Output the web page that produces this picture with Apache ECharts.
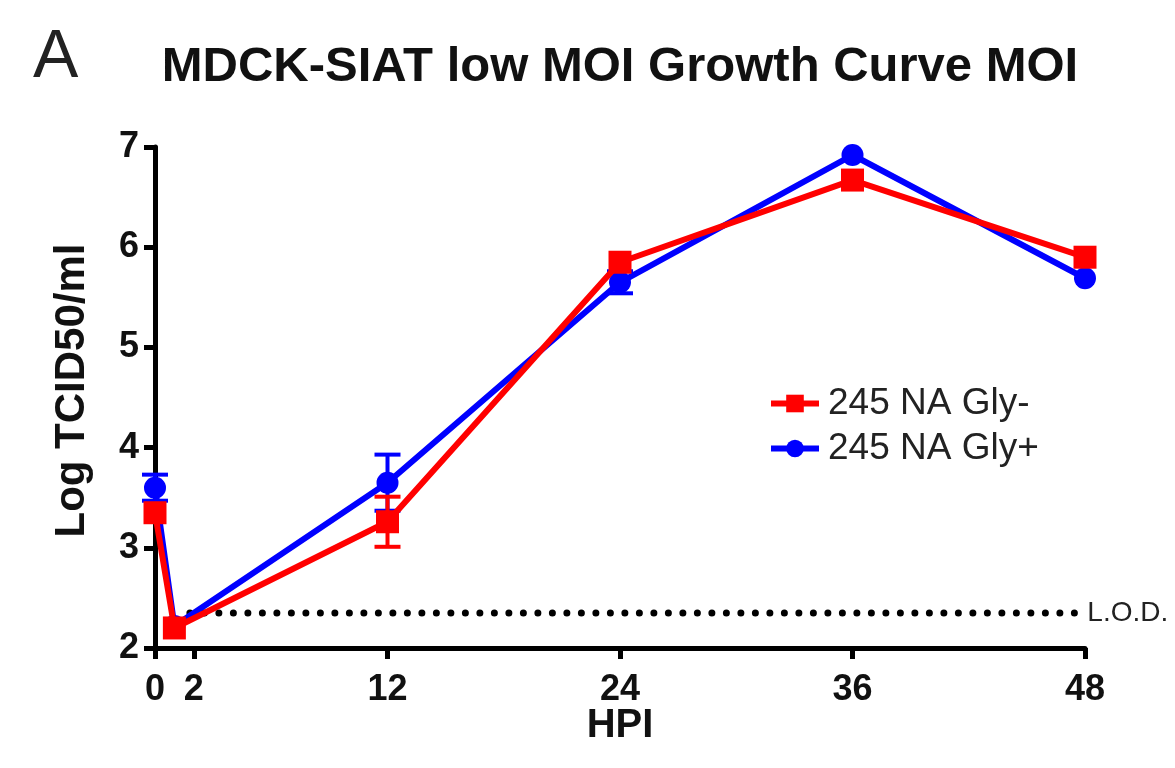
<!DOCTYPE html>
<html>
<head>
<meta charset="utf-8">
<title>MDCK-SIAT low MOI Growth Curve</title>
<script src="https://cdn.jsdelivr.net/npm/echarts@6/dist/echarts.min.js"></script>
<style>
  html, body { margin: 0; padding: 0; background: #fff; }
  #chart { width: 1175px; height: 768px; }
</style>
</head>
<body>
<div id="chart"></div>
<script>
// Hours post infection and log titres for each virus
const hpiMinus = [0, 1, 12, 24, 36, 48];
const titreMinus = [3.35, 2.2, 3.26, 5.85, 6.67, 5.9];
const errMinus = [0.05, 0.05, 0.25, 0.05, 0.06, 0.05];

const hpiPlus = [0, 1, 12, 24, 36, 48];
const titrePlus = [3.6, 2.22, 3.65, 5.65, 6.92, 5.69];
const errPlus = [0.13, 0.05, 0.28, 0.11, 0.05, 0.05];

// Limit of detection
const lodValue = 2.35;
const lodRange = [1.8, 47.5];

const xTicks = [0, 2, 12, 24, 36, 48];
const seriesNames = ['245 NA Gly-', '245 NA Gly+'];

const RED = '#ff0000';
const BLUE = '#0000ff';
const FONT = '"Liberation Sans", Arial, Helvetica, sans-serif';
const MARKER = 22;

const pairs = (xs, ys) => xs.map((x, i) => [x, ys[i]]);
const triples = (xs, ys, es) => xs.map((x, i) => [x, ys[i], es[i]]);

// SD bars; bars much shorter than the marker stay hidden behind it
function errorBars(color) {
  return function (params, api) {
    const x = api.value(0), y = api.value(1), e = api.value(2);
    const top = api.coord([x, y + e]);
    const bot = api.coord([x, y - e]);
    if ((bot[1] - top[1]) / 2 < 8) {
      return null;
    }
    const hw = 13;
    const style = { stroke: color, lineWidth: 4 };
    return {
      type: 'group',
      children: [
        { type: 'line', shape: { x1: top[0], y1: top[1], x2: bot[0], y2: bot[1] }, style },
        { type: 'line', shape: { x1: top[0] - hw, y1: top[1], x2: top[0] + hw, y2: top[1] }, style },
        { type: 'line', shape: { x1: bot[0] - hw, y1: bot[1], x2: bot[0] + hw, y2: bot[1] }, style }
      ]
    };
  };
}

const chart = echarts.init(document.getElementById('chart'), null, { renderer: 'canvas' });

chart.setOption({
  animation: false,
  backgroundColor: '#ffffff',
  textStyle: { fontFamily: FONT },
  title: {
    text: 'MDCK-SIAT low MOI Growth Curve MOI',
    left: 615,
    textAlign: 'center',
    top: 38,
    textStyle: { fontFamily: FONT, fontSize: 49, fontWeight: 'bold', color: '#111' }
  },
  graphic: [
    {
      type: 'text', left: 33, top: 24,
      style: { text: 'A', fontFamily: FONT, fontSize: 68, fontWeight: 'normal', fill: '#222' }
    }
  ],
  legend: {
    data: seriesNames,
    orient: 'vertical',
    left: 763,
    top: 380,
    itemWidth: 48,
    itemHeight: 22,
    itemGap: 8,
    lineStyle: { width: 6 },
    textStyle: { fontFamily: FONT, fontSize: 37, color: '#222', padding: [0, 0, 0, 4] }
  },
  grid: { left: 155, right: 90, top: 147, bottom: 120, containLabel: false },
  xAxis: {
    type: 'value',
    min: 0,
    max: 48,
    name: 'HPI',
    nameLocation: 'middle',
    nameGap: 58,
    nameMoveOverlap: false,
    nameTextStyle: { fontFamily: FONT, fontSize: 40, fontWeight: 'bold', color: '#111' },
    splitLine: { show: false },
    axisLine: { show: true, onZero: false, lineStyle: { color: '#000', width: 5 } },
    axisTick: { show: true, length: 11, customValues: xTicks, lineStyle: { color: '#000', width: 5 } },
    axisLabel: {
      customValues: xTicks,
      margin: 24,
      fontFamily: FONT, fontSize: 36, fontWeight: 'bold', color: '#111'
    }
  },
  yAxis: {
    type: 'value',
    min: 2,
    max: 7,
    interval: 1,
    name: 'Log TCID50/ml',
    nameLocation: 'middle',
    nameGap: 62,
    nameRotate: 90,
    nameMoveOverlap: false,
    nameTextStyle: {
      fontFamily: FONT, fontSize: 42, fontWeight: 'bold', color: '#111',
      padding: [0, 0, 0, 14]
    },
    splitLine: { show: false },
    axisLine: { show: true, onZero: false, lineStyle: { color: '#000', width: 5 } },
    axisTick: { show: true, length: 11, lineStyle: { color: '#000', width: 5 } },
    axisLabel: { margin: 16, fontFamily: FONT, fontSize: 36, fontWeight: 'bold', color: '#111' }
  },
  series: [
    {
      name: 'L.O.D.',
      type: 'line',
      data: lodRange.map(x => [x, lodValue]),
      symbol: 'none',
      silent: true,
      z: 1,
      lineStyle: { color: '#000', width: 7, type: [0, 14.5], cap: 'round' },
      endLabel: {
        show: true,
        formatter: 'L.O.D.',
        distance: 12,
        fontFamily: FONT, fontSize: 28, color: '#222'
      }
    },
    {
      name: seriesNames[1],
      type: 'line',
      data: pairs(hpiPlus, titrePlus),
      symbol: 'circle',
      symbolSize: MARKER,
      z: 3,
      itemStyle: { color: BLUE },
      lineStyle: { color: BLUE, width: 6 }
    },
    {
      name: seriesNames[1] + ' SD',
      type: 'custom',
      data: triples(hpiPlus, titrePlus, errPlus),
      renderItem: errorBars(BLUE),
      z: 4,
      silent: true
    },
    {
      name: seriesNames[0],
      type: 'line',
      data: pairs(hpiMinus, titreMinus),
      symbol: 'rect',
      symbolSize: 23,
      z: 5,
      itemStyle: { color: RED },
      lineStyle: { color: RED, width: 6 }
    },
    {
      name: seriesNames[0] + ' SD',
      type: 'custom',
      data: triples(hpiMinus, titreMinus, errMinus),
      renderItem: errorBars(RED),
      z: 6,
      silent: true
    }
  ]
});
</script>
</body>
</html>
